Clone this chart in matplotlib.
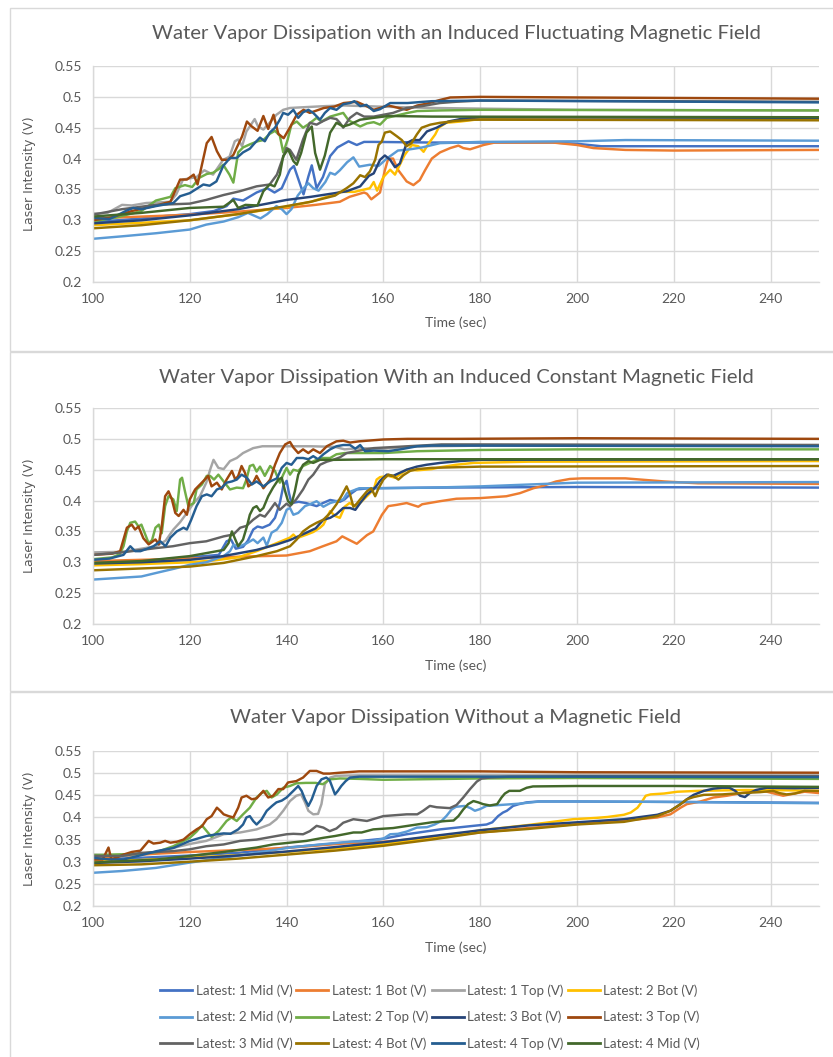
import matplotlib
matplotlib.use("Agg")
import matplotlib.pyplot as plt
from matplotlib.patches import Rectangle
from matplotlib.lines import Line2D

# ---------------- series meta ----------------
SERIES_NAMES = ["Latest: 1 Mid (V)", "Latest: 1 Bot (V)", "Latest: 1 Top (V)", "Latest: 2 Bot (V)",
                "Latest: 2 Mid (V)", "Latest: 2 Top (V)", "Latest: 3 Bot (V)", "Latest: 3 Top (V)",
                "Latest: 3 Mid (V)", "Latest: 4 Bot (V)", "Latest: 4 Top (V)", "Latest: 4 Mid (V)"]
SERIES_COLORS = ["#4472C4", "#ED7D31", "#A5A5A5", "#FFC000", "#5B9BD5", "#70AD47",
                 "#264478", "#9E480E", "#636363", "#997300", "#255E91", "#43682B"]
PANEL_TITLES = ["Water Vapor Dissipation with an Induced Fluctuating Magnetic Field",
                "Water Vapor Dissipation With an Induced Constant Magnetic Field",
                "Water Vapor Dissipation Without a Magnetic Field"]
X_TICKS = [100, 120, 140, 160, 180, 200, 220, 240]
Y_TICKS = [0.2, 0.25, 0.3, 0.35, 0.4, 0.45, 0.5, 0.55]
Y_TICK_LABELS = ["0.2", "0.25", "0.3", "0.35", "0.4", "0.45", "0.5", "0.55"]

# ---------------- Panel 1: fluctuating field ----------------
F_1MID_T = [100, 105, 110, 115, 120, 125, 127.6, 129, 131, 133.8, 136, 137.5, 139, 140.7, 141.5, 142.5, 143.5, 144.5, 145.2, 146.2, 147.5, 149, 150.5, 152.8, 154.5, 156, 158, 170, 180, 195, 200, 205, 215, 250]
F_1MID_V = [0.298, 0.300, 0.303, 0.307, 0.310, 0.315, 0.323, 0.335, 0.332, 0.345, 0.352, 0.345, 0.352, 0.382, 0.388, 0.365, 0.342, 0.371, 0.389, 0.352, 0.370, 0.404, 0.418, 0.428, 0.422, 0.427, 0.427, 0.426, 0.426, 0.426, 0.424, 0.420, 0.420, 0.420]
F_1BOT_T = [100, 110, 120, 130, 140, 146, 151, 153, 156, 156.6, 157.5, 159.3, 160.3, 161, 162, 163, 164.8, 166.2, 167.5, 168.6, 170, 171.7, 173.8, 175.5, 176.5, 177.9, 179.5, 180.7, 183, 195, 200, 203.4, 210, 220, 250]
F_1BOT_V = [0.303, 0.306, 0.309, 0.314, 0.320, 0.325, 0.330, 0.338, 0.345, 0.343, 0.334, 0.345, 0.381, 0.400, 0.400, 0.382, 0.363, 0.357, 0.365, 0.381, 0.400, 0.410, 0.417, 0.421, 0.417, 0.415, 0.419, 0.422, 0.426, 0.426, 0.422, 0.417, 0.414, 0.413, 0.414]
F_1TOP_T = [100, 103, 106, 108, 111, 116, 117.2, 118.6, 120, 121.4, 123, 124.8, 126.9, 128.2, 129.3, 130, 130.8, 131.7, 132.4, 133.4, 134.1, 135.2, 136.5, 137.9, 139.3, 140.7, 143, 148, 152, 160, 170, 180, 200, 250]
F_1TOP_V = [0.311, 0.312, 0.325, 0.324, 0.328, 0.330, 0.342, 0.366, 0.368, 0.370, 0.381, 0.374, 0.398, 0.403, 0.428, 0.431, 0.420, 0.444, 0.452, 0.464, 0.452, 0.447, 0.458, 0.471, 0.479, 0.482, 0.483, 0.485, 0.486, 0.484, 0.482, 0.481, 0.479, 0.478]
F_2BOT_T = [100, 110, 120, 130, 140, 145, 150, 151, 154, 157.2, 158, 158.7, 160, 161.4, 162.4, 163.4, 164.4, 165.9, 167.2, 168.3, 169.3, 170.7, 171.4, 173, 175.9, 180, 200, 250]
F_2BOT_V = [0.292, 0.296, 0.300, 0.310, 0.322, 0.330, 0.342, 0.346, 0.346, 0.352, 0.362, 0.348, 0.370, 0.382, 0.374, 0.390, 0.406, 0.422, 0.420, 0.411, 0.424, 0.439, 0.450, 0.458, 0.460, 0.464, 0.463, 0.463]
F_2MID_T = [100, 106, 113, 120, 123.4, 127, 130, 132, 134.6, 136, 137.9, 139, 140, 141, 142.3, 143.5, 144.5, 145.5, 146.6, 148, 149, 150, 151, 152.5, 153.8, 155, 157.2, 159, 160.7, 163, 165.5, 168, 171.7, 180, 200, 210, 250]
F_2MID_V = [0.270, 0.274, 0.279, 0.285, 0.293, 0.298, 0.305, 0.312, 0.303, 0.310, 0.323, 0.318, 0.310, 0.318, 0.340, 0.352, 0.360, 0.352, 0.348, 0.362, 0.377, 0.374, 0.381, 0.394, 0.402, 0.387, 0.390, 0.388, 0.400, 0.413, 0.415, 0.418, 0.425, 0.427, 0.428, 0.430, 0.429]
F_2TOP_T = [100, 105, 110, 113, 116, 117, 119, 120.5, 122, 123.5, 124.8, 126, 126.9, 128.2, 129, 130, 131, 132.4, 134, 135.2, 136.5, 137.6, 138.6, 139.3, 140.2, 141, 142.1, 143.4, 144.4, 146.2, 147.2, 149, 151.7, 152.8, 155.2, 156.6, 158, 159.3, 160.7, 163.4, 165, 167, 172, 180, 250]
F_2TOP_V = [0.298, 0.305, 0.315, 0.332, 0.338, 0.352, 0.357, 0.354, 0.369, 0.375, 0.377, 0.383, 0.390, 0.374, 0.361, 0.410, 0.418, 0.423, 0.428, 0.430, 0.440, 0.445, 0.437, 0.410, 0.430, 0.455, 0.460, 0.450, 0.455, 0.466, 0.460, 0.468, 0.474, 0.462, 0.452, 0.457, 0.459, 0.455, 0.466, 0.471, 0.474, 0.477, 0.478, 0.479, 0.478]
F_3BOT_T = [100, 110, 120, 130, 140, 145, 150, 152.4, 155.2, 157, 158, 159.3, 160.3, 161.4, 162.4, 163.4, 164.8, 166, 167.5, 169, 171, 173.4, 175.9, 180, 250]
F_3BOT_V = [0.295, 0.300, 0.308, 0.318, 0.333, 0.338, 0.344, 0.347, 0.355, 0.372, 0.376, 0.398, 0.405, 0.398, 0.386, 0.392, 0.425, 0.430, 0.430, 0.444, 0.450, 0.460, 0.464, 0.467, 0.466]
F_3TOP_T = [100, 104, 108, 112, 116, 118, 119.4, 120.8, 121.6, 123.5, 124.5, 125.6, 126.6, 128, 129, 130.8, 131.8, 132.8, 134, 135.2, 136.2, 137.3, 138.3, 139.4, 140.8, 142.1, 143.5, 144.8, 147.7, 149.8, 151.8, 154.5, 156.5, 158, 161, 164.8, 167, 169, 171.7, 173.8, 180, 200, 250]
F_3TOP_V = [0.300, 0.305, 0.315, 0.322, 0.330, 0.366, 0.366, 0.374, 0.358, 0.425, 0.435, 0.412, 0.398, 0.398, 0.406, 0.436, 0.460, 0.452, 0.445, 0.469, 0.448, 0.471, 0.440, 0.433, 0.452, 0.471, 0.479, 0.474, 0.482, 0.484, 0.490, 0.492, 0.485, 0.479, 0.486, 0.479, 0.486, 0.489, 0.495, 0.499, 0.500, 0.499, 0.497]
F_3MID_T = [100, 106, 113, 120, 123.4, 127, 130.3, 133.8, 136.5, 138, 139, 140, 140.7, 142, 143.4, 144.8, 146.2, 147.6, 149, 150.3, 151, 151.7, 153.1, 154.5, 156, 158, 160, 162, 164.8, 168, 171.7, 175, 180, 250]
F_3MID_V = [0.309, 0.318, 0.325, 0.327, 0.333, 0.341, 0.347, 0.355, 0.358, 0.374, 0.396, 0.417, 0.414, 0.398, 0.431, 0.458, 0.455, 0.461, 0.466, 0.464, 0.458, 0.450, 0.466, 0.474, 0.468, 0.468, 0.471, 0.474, 0.482, 0.485, 0.490, 0.492, 0.494, 0.492]
F_4BOT_T = [100, 110, 120, 130, 140, 145, 150, 152.4, 153.8, 155.2, 156.2, 157.2, 158.3, 159, 159.7, 160.3, 161.4, 162.8, 163.8, 164.8, 165.8, 166.9, 167.9, 169.7, 171.7, 175, 178.6, 250]
F_4BOT_V = [0.287, 0.292, 0.300, 0.310, 0.323, 0.330, 0.340, 0.352, 0.360, 0.373, 0.370, 0.379, 0.398, 0.422, 0.428, 0.442, 0.444, 0.436, 0.430, 0.420, 0.425, 0.439, 0.450, 0.455, 0.458, 0.461, 0.463, 0.462]
F_4TOP_T = [100, 103.4, 105.5, 107, 108.3, 110, 113, 116.6, 118, 120, 122.8, 124.1, 125.5, 126.9, 128.3, 129.7, 131, 132.4, 133.4, 134.5, 135.5, 136.5, 137.6, 138.6, 139.3, 140.3, 141.4, 142.4, 143.4, 144.5, 145.5, 146.9, 147.9, 149, 150.3, 151.7, 153.1, 154, 155.2, 156.5, 158, 159.3, 161.4, 165, 170, 180, 250]
F_4TOP_V = [0.304, 0.302, 0.310, 0.316, 0.320, 0.318, 0.323, 0.328, 0.339, 0.344, 0.358, 0.356, 0.363, 0.388, 0.401, 0.401, 0.410, 0.416, 0.425, 0.434, 0.428, 0.442, 0.450, 0.463, 0.474, 0.471, 0.479, 0.466, 0.475, 0.479, 0.474, 0.463, 0.474, 0.482, 0.479, 0.488, 0.490, 0.493, 0.485, 0.487, 0.477, 0.480, 0.490, 0.490, 0.493, 0.494, 0.491]
F_4MID_T = [100, 110, 120, 127, 129, 130, 131.5, 134, 135.2, 136.5, 137.5, 138.6, 139.3, 140.3, 141.4, 142.1, 143, 144.1, 145.2, 145.9, 146.9, 147.9, 149, 150.3, 151.7, 153, 155.2, 158, 161, 170, 250]
F_4MID_V = [0.306, 0.312, 0.320, 0.322, 0.333, 0.320, 0.325, 0.324, 0.347, 0.358, 0.355, 0.374, 0.404, 0.415, 0.396, 0.390, 0.409, 0.442, 0.452, 0.409, 0.382, 0.405, 0.442, 0.458, 0.452, 0.455, 0.463, 0.466, 0.469, 0.468, 0.467]

# ---------------- Panel 2: constant field ----------------
C_1MID_T = [100, 110, 120, 126, 127.6, 128.5, 129.5, 131, 132, 133.1, 134, 135, 136.5, 137.6, 138.6, 139.3, 140, 140.5, 141, 142.5, 144, 146.2, 147.5, 149, 151, 152, 153.1, 154.5, 157, 170, 200, 250]
C_1MID_V = [0.298, 0.302, 0.308, 0.312, 0.334, 0.337, 0.322, 0.325, 0.335, 0.353, 0.358, 0.356, 0.361, 0.372, 0.396, 0.423, 0.432, 0.412, 0.396, 0.398, 0.396, 0.391, 0.396, 0.401, 0.398, 0.402, 0.410, 0.418, 0.420, 0.421, 0.422, 0.421]
C_1BOT_T = [100, 110, 120, 130, 140, 144.8, 147.5, 150.3, 151.5, 152.5, 154.5, 156.6, 157.9, 159.7, 161, 162.7, 164.8, 167.2, 168, 171.7, 175.1, 180, 185.4, 188.2, 191, 193, 195.7, 198.5, 201, 210, 218, 225, 250]
C_1BOT_V = [0.302, 0.304, 0.306, 0.309, 0.311, 0.318, 0.326, 0.334, 0.342, 0.338, 0.330, 0.344, 0.350, 0.377, 0.391, 0.393, 0.396, 0.390, 0.394, 0.399, 0.403, 0.404, 0.407, 0.412, 0.420, 0.424, 0.431, 0.435, 0.436, 0.436, 0.431, 0.428, 0.427]
C_1TOP_T = [100, 106, 110, 113, 115, 116.6, 118, 119.4, 120.7, 122.1, 123.4, 124.2, 124.9, 125.9, 127, 128.3, 129.7, 131, 133.1, 135, 140, 145, 150, 152, 155, 160, 165, 170, 180, 250]
C_1TOP_V = [0.316, 0.317, 0.322, 0.326, 0.335, 0.353, 0.365, 0.380, 0.395, 0.407, 0.429, 0.450, 0.466, 0.453, 0.451, 0.464, 0.469, 0.477, 0.485, 0.488, 0.488, 0.488, 0.487, 0.483, 0.485, 0.484, 0.487, 0.488, 0.489, 0.490]
C_2BOT_T = [100, 110, 120, 125, 130, 133.8, 137, 140.7, 141.4, 142.1, 144.2, 145.5, 146.9, 147.6, 149, 150, 151, 152, 153, 154.4, 156.6, 158, 158.6, 159.3, 161, 162.4, 163.4, 164.8, 167, 170, 171.7, 175, 178.6, 190, 250]
C_2BOT_V = [0.295, 0.297, 0.300, 0.303, 0.308, 0.318, 0.328, 0.340, 0.345, 0.339, 0.345, 0.349, 0.356, 0.361, 0.383, 0.375, 0.372, 0.390, 0.396, 0.390, 0.407, 0.418, 0.434, 0.438, 0.440, 0.437, 0.442, 0.450, 0.449, 0.451, 0.454, 0.458, 0.461, 0.463, 0.464]
C_2MID_T = [100, 106, 110, 113.2, 117, 120, 123.4, 127, 128.3, 129, 130.4, 131.8, 133.1, 134, 135.2, 135.9, 136.9, 138, 139, 140, 140.7, 141.4, 142.4, 143.8, 144.8, 146.2, 147.6, 149, 150.3, 151.7, 152.5, 153, 155, 160, 170, 180, 190, 200, 250]
C_2MID_V = [0.272, 0.275, 0.277, 0.283, 0.290, 0.296, 0.300, 0.310, 0.318, 0.328, 0.326, 0.331, 0.337, 0.331, 0.340, 0.327, 0.348, 0.353, 0.364, 0.385, 0.388, 0.377, 0.380, 0.391, 0.394, 0.399, 0.390, 0.396, 0.399, 0.402, 0.412, 0.414, 0.420, 0.420, 0.421, 0.423, 0.426, 0.429, 0.430]
C_2TOP_T = [100, 104, 105.5, 106.3, 107, 107.7, 108.7, 109.4, 110, 110.8, 111.5, 112.2, 112.9, 113.6, 114.2, 114.9, 115.6, 116.6, 117.3, 118, 118.4, 119, 119.7, 120.8, 121.4, 122.5, 123.5, 124.2, 125, 125.9, 127, 128.3, 129.7, 131, 131.7, 132.4, 133.1, 133.8, 134.5, 135.5, 136.6, 137.6, 138.6, 139.3, 140, 140.7, 141.4, 142.4, 143.4, 144.8, 146.2, 147.6, 149, 150.3, 152, 160, 167, 180, 200, 250]
C_2TOP_V = [0.305, 0.308, 0.313, 0.326, 0.350, 0.364, 0.366, 0.358, 0.361, 0.345, 0.331, 0.336, 0.356, 0.361, 0.347, 0.391, 0.407, 0.402, 0.383, 0.434, 0.437, 0.415, 0.391, 0.396, 0.418, 0.426, 0.440, 0.440, 0.434, 0.442, 0.431, 0.418, 0.421, 0.420, 0.434, 0.456, 0.458, 0.447, 0.455, 0.440, 0.456, 0.448, 0.429, 0.442, 0.453, 0.442, 0.450, 0.448, 0.456, 0.461, 0.466, 0.469, 0.469, 0.475, 0.477, 0.477, 0.480, 0.482, 0.483, 0.483]
C_3BOT_T = [100, 110, 120, 126.9, 133.8, 138, 140.7, 144.1, 146, 147.6, 149, 150.3, 151.7, 153.1, 154.2, 155.2, 156.6, 157.9, 158.6, 159.3, 160.7, 162, 163.4, 164.8, 166.9, 168.9, 171.7, 175.8, 180, 250]
C_3BOT_V = [0.298, 0.300, 0.304, 0.310, 0.320, 0.329, 0.336, 0.348, 0.355, 0.369, 0.372, 0.378, 0.388, 0.388, 0.385, 0.396, 0.410, 0.418, 0.424, 0.432, 0.442, 0.440, 0.445, 0.450, 0.455, 0.458, 0.461, 0.464, 0.466, 0.467]
C_3TOP_T = [100, 104, 105.6, 106.3, 107, 108, 108.7, 109.4, 110.4, 111.5, 112.9, 113.6, 114.2, 114.9, 115.6, 116.3, 117, 117.7, 118.7, 119.4, 120, 121.1, 122.1, 123.1, 123.8, 124.5, 125.6, 126.6, 127.6, 128.7, 129.4, 130, 130.7, 131.4, 132.1, 133.1, 133.8, 135.2, 136.6, 137.6, 138.6, 139.7, 140.7, 141.4, 142.4, 143.4, 144.5, 145.5, 146.9, 148.3, 150.3, 151.7, 153.1, 155, 160, 165, 175, 200, 250]
C_3TOP_V = [0.312, 0.314, 0.318, 0.337, 0.356, 0.361, 0.353, 0.358, 0.339, 0.329, 0.337, 0.329, 0.358, 0.407, 0.415, 0.402, 0.380, 0.375, 0.385, 0.377, 0.402, 0.418, 0.426, 0.434, 0.440, 0.423, 0.429, 0.418, 0.434, 0.448, 0.434, 0.440, 0.456, 0.445, 0.423, 0.429, 0.440, 0.420, 0.434, 0.458, 0.477, 0.491, 0.495, 0.486, 0.477, 0.483, 0.477, 0.483, 0.477, 0.488, 0.496, 0.497, 0.494, 0.496, 0.499, 0.500, 0.500, 0.501, 0.500]
C_3MID_T = [100, 106, 113, 116.5, 120, 123.4, 127, 129, 130.4, 131.7, 133.1, 134.5, 135.5, 136.6, 137.6, 138.6, 140, 140.7, 142, 143.4, 144.5, 145.5, 146.9, 148.3, 149.6, 151, 152.4, 155, 158, 165, 172, 180, 250]
C_3MID_V = [0.312, 0.316, 0.323, 0.326, 0.331, 0.334, 0.342, 0.345, 0.356, 0.359, 0.369, 0.377, 0.374, 0.385, 0.396, 0.385, 0.395, 0.391, 0.402, 0.418, 0.434, 0.442, 0.458, 0.463, 0.466, 0.470, 0.477, 0.481, 0.485, 0.488, 0.491, 0.491, 0.490]
C_4BOT_T = [100, 110, 120, 127, 133.8, 138, 140.7, 142.1, 143.4, 144.8, 146.2, 147.6, 149, 150.3, 151.3, 152.4, 153.1, 153.8, 154.5, 155.2, 156.6, 157.5, 158.3, 159, 160, 161, 162, 163.1, 164.1, 165.5, 167, 170, 180, 250]
C_4BOT_V = [0.287, 0.290, 0.293, 0.299, 0.310, 0.318, 0.326, 0.337, 0.350, 0.358, 0.364, 0.369, 0.380, 0.394, 0.407, 0.423, 0.410, 0.390, 0.395, 0.402, 0.415, 0.420, 0.407, 0.420, 0.434, 0.442, 0.440, 0.434, 0.441, 0.448, 0.451, 0.453, 0.455, 0.456]
C_4TOP_T = [100, 103.4, 106.3, 107.7, 108.7, 109.8, 111.2, 112.5, 113.9, 115, 116, 117.3, 118.7, 119.4, 120.3, 121.4, 122.5, 123.5, 124.5, 125.6, 126.6, 127.6, 128.7, 129.7, 130.7, 131.8, 132.8, 133.8, 135.2, 136.6, 138, 139, 140, 141, 142.1, 143.4, 144.5, 145.5, 146.5, 147.6, 149, 150.3, 151.7, 153.1, 154.2, 155.2, 156.2, 158, 161, 163.5, 167, 170, 180, 250]
C_4TOP_V = [0.304, 0.306, 0.312, 0.326, 0.318, 0.318, 0.322, 0.326, 0.334, 0.326, 0.340, 0.350, 0.356, 0.353, 0.369, 0.391, 0.407, 0.410, 0.407, 0.418, 0.421, 0.429, 0.431, 0.434, 0.442, 0.437, 0.426, 0.431, 0.423, 0.431, 0.436, 0.453, 0.461, 0.458, 0.469, 0.469, 0.467, 0.472, 0.467, 0.475, 0.483, 0.488, 0.490, 0.490, 0.484, 0.490, 0.480, 0.481, 0.480, 0.483, 0.488, 0.489, 0.489, 0.488]
C_4MID_T = [100, 110, 120, 127, 128, 128.7, 129.4, 130, 131, 131.8, 132.4, 133.1, 133.8, 134.5, 135.2, 136.2, 137.2, 138.3, 139, 139.7, 140.3, 141, 141.7, 142.4, 143.4, 144.5, 145.5, 146.9, 150, 160, 250]
C_4MID_V = [0.299, 0.302, 0.310, 0.320, 0.331, 0.350, 0.337, 0.326, 0.337, 0.358, 0.377, 0.388, 0.391, 0.383, 0.388, 0.407, 0.421, 0.434, 0.437, 0.415, 0.399, 0.394, 0.415, 0.442, 0.458, 0.464, 0.461, 0.466, 0.466, 0.467, 0.467]

# ---------------- Panel 3: no field ----------------
N_1MID_T = [100, 110, 120, 130, 140, 150, 160, 164.8, 171.7, 178.6, 181.3, 182.5, 183.7, 184.7, 185.5, 186.8, 188, 189.6, 192, 200, 220, 250]
N_1MID_V = [0.305, 0.309, 0.314, 0.320, 0.332, 0.341, 0.352, 0.362, 0.373, 0.381, 0.384, 0.389, 0.403, 0.411, 0.415, 0.426, 0.430, 0.434, 0.436, 0.436, 0.435, 0.433]
N_1BOT_T = [100, 106, 113, 120, 127, 134, 141, 148, 153, 160, 170, 180, 190, 200, 205, 210, 216.6, 219.3, 221.4, 222.7, 225.5, 228.2, 231, 234.4, 238.5, 242.6, 244, 247, 250]
N_1BOT_V = [0.308, 0.313, 0.318, 0.322, 0.325, 0.328, 0.332, 0.338, 0.342, 0.345, 0.355, 0.366, 0.376, 0.385, 0.389, 0.393, 0.400, 0.407, 0.422, 0.430, 0.436, 0.445, 0.449, 0.456, 0.460, 0.449, 0.452, 0.458, 0.455]
N_1TOP_T = [100, 106, 113, 120, 123.4, 127, 130.4, 133.8, 136.5, 137.9, 139.3, 140.7, 142, 143, 143.8, 144.5, 145.5, 146.5, 147.2, 147.9, 149, 150.3, 155, 170, 200, 250]
N_1TOP_V = [0.316, 0.313, 0.322, 0.340, 0.347, 0.362, 0.366, 0.373, 0.384, 0.396, 0.415, 0.437, 0.449, 0.452, 0.434, 0.415, 0.407, 0.408, 0.430, 0.475, 0.490, 0.494, 0.495, 0.495, 0.495, 0.495]
N_2BOT_T = [100, 110, 120, 130, 140, 150, 160, 170, 180, 190, 199.2, 204, 206.3, 209.7, 211.1, 212.5, 213.5, 214.2, 215.2, 218, 220.7, 225, 235, 245, 250]
N_2BOT_V = [0.300, 0.304, 0.309, 0.315, 0.322, 0.330, 0.340, 0.352, 0.371, 0.383, 0.396, 0.399, 0.401, 0.406, 0.411, 0.422, 0.437, 0.449, 0.452, 0.454, 0.458, 0.460, 0.462, 0.461, 0.460]
N_2MID_T = [100, 106, 113, 120, 127, 133.8, 140.7, 147, 153, 157.9, 160, 161.4, 163, 164.8, 166.9, 169, 170.6, 172, 173, 174.1, 175, 176.8, 178, 178.9, 180, 181.3, 184, 188, 192.3, 200, 220, 250]
N_2MID_V = [0.275, 0.279, 0.286, 0.298, 0.309, 0.320, 0.332, 0.339, 0.345, 0.347, 0.352, 0.362, 0.363, 0.368, 0.377, 0.378, 0.384, 0.392, 0.403, 0.418, 0.424, 0.426, 0.421, 0.415, 0.419, 0.426, 0.428, 0.431, 0.436, 0.436, 0.435, 0.432]
N_2TOP_T = [100, 110, 113.2, 116.6, 120, 121.4, 122.5, 124.5, 126, 127.6, 128.6, 129.7, 131, 132.4, 133.8, 134.8, 135.9, 136.9, 138, 139.3, 140.7, 142, 144, 146, 147.5, 148.9, 151, 155, 160, 180, 200, 250]
N_2TOP_V = [0.315, 0.318, 0.322, 0.335, 0.354, 0.368, 0.382, 0.356, 0.370, 0.392, 0.400, 0.392, 0.407, 0.422, 0.445, 0.455, 0.460, 0.445, 0.452, 0.467, 0.471, 0.477, 0.478, 0.478, 0.475, 0.486, 0.488, 0.487, 0.485, 0.488, 0.489, 0.487]
N_3BOT_T = [100, 110, 120, 130, 140, 150, 160, 171.7, 180, 190, 200, 209.7, 216.6, 219.3, 221.4, 222.7, 224.1, 226.2, 228.2, 230, 231.5, 232.7, 233.7, 234.7, 235.8, 237, 239.2, 245, 250]
N_3BOT_V = [0.297, 0.301, 0.307, 0.314, 0.323, 0.333, 0.344, 0.360, 0.371, 0.382, 0.389, 0.396, 0.406, 0.415, 0.430, 0.441, 0.451, 0.460, 0.465, 0.467, 0.467, 0.460, 0.449, 0.446, 0.456, 0.462, 0.467, 0.466, 0.467]
N_3TOP_T = [100, 102, 103.2, 103.8, 105, 106.3, 108, 109.8, 111.5, 112.5, 113.9, 114.9, 116, 117.3, 118.7, 120, 121.4, 122.5, 123.5, 124.5, 125.6, 126.3, 127, 128, 129, 130, 130.7, 131.7, 132.8, 133.8, 135.2, 136.2, 137.2, 138.3, 139.3, 140.3, 142, 143.4, 144.8, 146.2, 147.6, 148.9, 151, 155, 180, 200, 250]
N_3TOP_V = [0.305, 0.305, 0.332, 0.305, 0.310, 0.316, 0.322, 0.325, 0.347, 0.341, 0.343, 0.347, 0.343, 0.345, 0.350, 0.362, 0.373, 0.380, 0.396, 0.403, 0.422, 0.415, 0.407, 0.403, 0.400, 0.422, 0.445, 0.449, 0.441, 0.443, 0.460, 0.445, 0.449, 0.464, 0.464, 0.479, 0.482, 0.490, 0.505, 0.505, 0.499, 0.499, 0.501, 0.504, 0.504, 0.502, 0.501]
N_3MID_T = [100, 106, 110, 116.6, 120, 123.4, 127, 130.4, 133.8, 137.9, 140, 141.4, 143.4, 144.8, 146.2, 147.6, 148.9, 150.3, 151.7, 153.8, 156.6, 160, 164.8, 167, 168.2, 169.6, 171, 173.7, 175.1, 176.5, 177.9, 179.3, 180.3, 182, 186, 200, 250]
N_3MID_V = [0.313, 0.313, 0.320, 0.324, 0.328, 0.335, 0.339, 0.347, 0.350, 0.358, 0.362, 0.363, 0.362, 0.369, 0.381, 0.377, 0.369, 0.375, 0.388, 0.396, 0.392, 0.403, 0.407, 0.407, 0.415, 0.426, 0.423, 0.421, 0.428, 0.445, 0.464, 0.481, 0.488, 0.490, 0.492, 0.493, 0.493]
N_4BOT_T = [100, 110, 120, 130, 140, 150, 160, 170, 180, 190, 200, 209.7, 216.6, 219.3, 221.4, 222.7, 224.1, 226.2, 230, 234, 237.8, 240.5, 241.8, 243.3, 245, 247, 250]
N_4BOT_V = [0.292, 0.294, 0.300, 0.307, 0.316, 0.325, 0.336, 0.350, 0.366, 0.374, 0.384, 0.390, 0.403, 0.415, 0.430, 0.441, 0.446, 0.451, 0.452, 0.455, 0.457, 0.460, 0.455, 0.452, 0.454, 0.460, 0.460]
N_4TOP_T = [100, 103.4, 106.3, 110, 113.2, 116.6, 120, 123.4, 125.6, 127, 128.4, 130, 131, 131.7, 132.4, 133.1, 133.8, 134.8, 135.9, 137, 137.9, 139, 140, 141.4, 142.4, 143.1, 143.8, 144.5, 145.2, 146.2, 147.2, 148.2, 148.9, 150, 150.6, 151.3, 152.2, 153.1, 155, 160, 180, 200, 250]
N_4TOP_V = [0.309, 0.305, 0.305, 0.315, 0.324, 0.331, 0.347, 0.358, 0.362, 0.364, 0.363, 0.373, 0.384, 0.400, 0.403, 0.392, 0.384, 0.395, 0.415, 0.426, 0.434, 0.438, 0.445, 0.460, 0.471, 0.460, 0.441, 0.426, 0.441, 0.471, 0.486, 0.490, 0.484, 0.452, 0.460, 0.471, 0.482, 0.490, 0.492, 0.492, 0.492, 0.492, 0.491]
N_4MID_T = [100, 113.2, 120, 127, 133.8, 137.2, 140.7, 144.1, 147.6, 150, 152.4, 153.8, 155.5, 157.9, 162, 166.9, 170, 173, 174.5, 175.5, 176.5, 177.5, 178.6, 179.6, 180.6, 182, 183.5, 184.4, 185.1, 186, 188.2, 189.6, 190.9, 200, 220, 250]
N_4MID_V = [0.298, 0.305, 0.313, 0.322, 0.332, 0.339, 0.343, 0.347, 0.354, 0.358, 0.363, 0.366, 0.366, 0.373, 0.376, 0.384, 0.389, 0.392, 0.393, 0.403, 0.418, 0.430, 0.437, 0.434, 0.430, 0.427, 0.430, 0.445, 0.454, 0.460, 0.460, 0.467, 0.470, 0.471, 0.471, 0.469]

FLUCT = [(F_1MID_T, F_1MID_V), (F_1BOT_T, F_1BOT_V), (F_1TOP_T, F_1TOP_V), (F_2BOT_T, F_2BOT_V),
         (F_2MID_T, F_2MID_V), (F_2TOP_T, F_2TOP_V), (F_3BOT_T, F_3BOT_V), (F_3TOP_T, F_3TOP_V),
         (F_3MID_T, F_3MID_V), (F_4BOT_T, F_4BOT_V), (F_4TOP_T, F_4TOP_V), (F_4MID_T, F_4MID_V)]
CONST = [(C_1MID_T, C_1MID_V), (C_1BOT_T, C_1BOT_V), (C_1TOP_T, C_1TOP_V), (C_2BOT_T, C_2BOT_V),
         (C_2MID_T, C_2MID_V), (C_2TOP_T, C_2TOP_V), (C_3BOT_T, C_3BOT_V), (C_3TOP_T, C_3TOP_V),
         (C_3MID_T, C_3MID_V), (C_4BOT_T, C_4BOT_V), (C_4TOP_T, C_4TOP_V), (C_4MID_T, C_4MID_V)]
NOFIELD = [(N_1MID_T, N_1MID_V), (N_1BOT_T, N_1BOT_V), (N_1TOP_T, N_1TOP_V), (N_2BOT_T, N_2BOT_V),
           (N_2MID_T, N_2MID_V), (N_2TOP_T, N_2TOP_V), (N_3BOT_T, N_3BOT_V), (N_3TOP_T, N_3TOP_V),
           (N_3MID_T, N_3MID_V), (N_4BOT_T, N_4BOT_V), (N_4TOP_T, N_4TOP_V), (N_4MID_T, N_4MID_V)]
PANEL_DATA = [FLUCT, CONST, NOFIELD]

# ---------------- layout (pixels) ----------------
W, H = 833, 1057
FONT = ["Lato", "DejaVu Sans"]
TXT = "#595959"
GRID = "#D9D9D9"

fig = plt.figure(figsize=(W / 100, H / 100), dpi=100)
fig.patch.set_facecolor("white")


def fx(px):
    return px / W


def fy(py):
    return 1 - py / H


# panel frames: (top, bottom)
FRAMES = [(8, 351), (352, 691), (692, 1070)]
for top, bot in FRAMES:
    fig.add_artist(Rectangle((fx(10), fy(bot)), fx(860 - 10), (bot - top) / H,
                             transform=fig.transFigure, fill=False,
                             edgecolor=GRID, linewidth=1.0))

# axes geometry: (y of 0.55, y of 0.2, title y, xlabel y)
GEOM = [(66, 282, 33, 323), (408, 624, 377, 666), (751, 906, 718, 948)]
AX_L, AX_R = 93, 819

for k, (ytop, ybot, ytitle, yxl) in enumerate(GEOM):
    ax = fig.add_axes([fx(AX_L), fy(ybot), (AX_R - AX_L) / W, (ybot - ytop) / H])
    for (t, v), col in zip(PANEL_DATA[k], SERIES_COLORS):
        ax.plot(t, v, color=col, lw=1.75, solid_joinstyle="round")
    ax.set_xlim(100, 250)
    ax.set_ylim(0.2, 0.55)
    ax.set_xticks(X_TICKS)
    ax.set_xticklabels([str(x) for x in X_TICKS], fontfamily=FONT, fontsize=10, color=TXT)
    ax.set_yticks(Y_TICKS)
    ax.set_yticklabels(Y_TICK_LABELS, fontfamily=FONT, fontsize=10, color=TXT)
    ax.tick_params(length=0, pad=8)
    ax.grid(True, color=GRID, lw=1.0)
    ax.set_axisbelow(True)
    for s in ("top", "right"):
        ax.spines[s].set_visible(False)
    for s in ("left", "bottom"):
        ax.spines[s].set_color(GRID)
        ax.spines[s].set_linewidth(1.0)
    fig.text(fx((AX_L + AX_R) / 2), fy(ytitle), PANEL_TITLES[k], ha="center", va="center",
             fontfamily=FONT, fontsize=14.6, color=TXT)
    fig.text(fx((AX_L + AX_R) / 2), fy(yxl), "Time (sec)", ha="center", va="center",
             fontfamily=FONT, fontsize=10, color=TXT)
    fig.text(fx(29), fy((ytop + ybot) / 2), "Laser Intensity (V)", ha="center", va="center",
             rotation=90, fontfamily=["DejaVu Sans"], fontsize=9, color=TXT)

# legend (Excel fills row-major; matplotlib fills column-major -> reorder)
handles = [Line2D([0], [0], color=c, lw=2.0) for c in SERIES_COLORS]
ncol, nrow = 4, 3
order = [r * ncol + c for c in range(ncol) for r in range(nrow)]
leg = fig.legend([handles[i] for i in order], [SERIES_NAMES[i] for i in order],
                 ncol=ncol, loc="center", bbox_to_anchor=(fx(430), fy(1017)),
                 frameon=False, prop={"family": FONT, "size": 9.6},
                 handlelength=2.4, handletextpad=0.25, columnspacing=0.3,
                 labelspacing=1.06, labelcolor=TXT)

fig.savefig("out.png", dpi=100, facecolor="white")
